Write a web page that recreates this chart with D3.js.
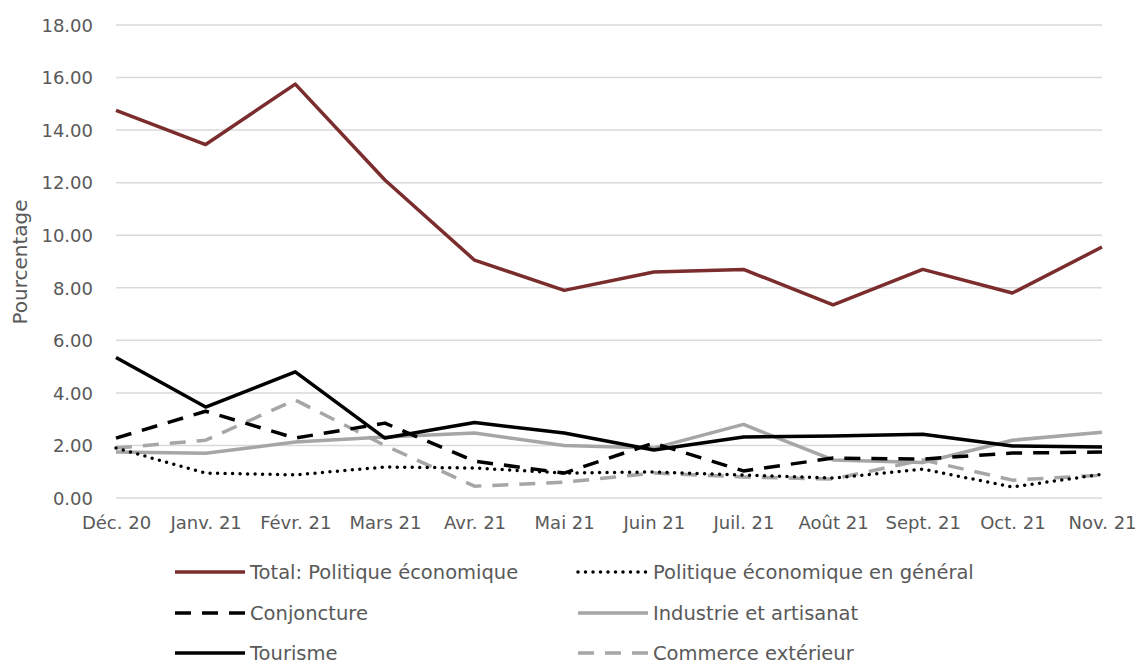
<!DOCTYPE html>
<html><head><meta charset="utf-8">
<script src="https://cdn.jsdelivr.net/npm/d3@7"></script>
<style>body{margin:0;background:#fff}svg{display:block}text{font-family:"DejaVu Sans",sans-serif}</style>
</head><body>
<svg id="c" width="1137" height="664"></svg>
<script>
const categories = ["Déc. 20","Janv. 21","Févr. 21","Mars 21","Avr. 21","Mai 21","Juin 21","Juil. 21","Août 21","Sept. 21","Oct. 21","Nov. 21"];
const total      = [14.75,13.45,15.75,12.10,9.05,7.90,8.60,8.70,7.35,8.70,7.80,9.55];
const generale   = [1.90,0.95,0.88,1.18,1.14,0.95,0.99,0.87,0.76,1.10,0.42,0.90];
const conjoncture= [2.28,3.30,2.28,2.85,1.40,0.95,2.09,1.03,1.52,1.48,1.71,1.75];
const industrie  = [1.75,1.70,2.13,2.32,2.47,2.00,1.90,2.80,1.45,1.35,2.20,2.50];
const tourisme   = [5.35,3.46,4.80,2.28,2.87,2.47,1.83,2.32,2.36,2.43,1.98,1.94];
const commerce   = [1.90,2.20,3.73,2.00,0.45,0.60,0.95,0.80,0.72,1.45,0.68,0.87];
const yTicks = [0,2,4,6,8,10,12,14,16,18];
const seriesNames = ["Total: Politique économique","Politique économique en général","Conjoncture","Industrie et artisanat","Tourisme","Commerce extérieur"];

const series = [
  {name:seriesNames[0], values:total,       color:"#7b2c2c", width:3.5, dash:null, cap:"butt"},
  {name:seriesNames[1], values:generale,    color:"#000000", width:3.5, dash:"0,7.5", cap:"round"},
  {name:seriesNames[2], values:conjoncture, color:"#000000", width:3.5, dash:"16,11", cap:"butt"},
  {name:seriesNames[3], values:industrie,   color:"#a6a6a6", width:3.5, dash:null, cap:"butt"},
  {name:seriesNames[4], values:tourisme,    color:"#000000", width:3.5, dash:null, cap:"butt"},
  {name:seriesNames[5], values:commerce,    color:"#a6a6a6", width:3.5, dash:"16,11", cap:"butt"}
];

const svg = d3.select("#c");
const x = d3.scalePoint().domain(categories).range([116,1102]);
const y = d3.scaleLinear().domain([0,18]).range([498,25]);

svg.append("g").selectAll("line").data(yTicks).join("line")
  .attr("x1",116).attr("x2",1102)
  .attr("y1",d=>y(d)).attr("y2",d=>y(d))
  .attr("stroke","#d9d9d9").attr("stroke-width",1.5);

const yAxis = d3.axisLeft(y).tickValues(yTicks).tickFormat(d3.format(".2f")).tickSize(0).tickPadding(0);
const gy = svg.append("g").attr("transform","translate(93,0)").call(yAxis);
gy.select(".domain").remove();
gy.selectAll("text").attr("fill","#595959").style("font-size","18px").style("font-family","'DejaVu Sans',sans-serif").attr("dy","0.35em");

const xAxis = d3.axisBottom(x).tickSize(0).tickPadding(0);
const gx = svg.append("g").attr("transform","translate(0,523)").call(xAxis);
gx.select(".domain").remove();
gx.selectAll("text").attr("fill","#595959").style("font-size","18px").style("font-family","'DejaVu Sans',sans-serif").attr("dy","0.35em");

svg.append("text").attr("transform","translate(20,262) rotate(-90)")
  .attr("text-anchor","middle").attr("dy","0.35em").attr("fill","#595959").style("font-size","20px").text("Pourcentage");

const line = d3.line().x((d,i)=>x(categories[i])).y(d=>y(d));
const drawOrder = [5,3,1,2,4,0];
drawOrder.forEach(k=>{
  const s = series[k];
  svg.append("path").attr("d",line(s.values)).attr("fill","none")
    .attr("stroke",s.color).attr("stroke-width",s.width)
    .attr("stroke-linecap",s.cap).attr("stroke-linejoin","round")
    .attr("stroke-dasharray",s.dash);
});

const legendPos = [[175,572],[578,572],[175,613],[578,613],[175,653],[578,653]];
series.forEach((s,i)=>{
  const [lx,ly] = legendPos[i];
  svg.append("line").attr("x1",lx).attr("x2",lx+70).attr("y1",ly).attr("y2",ly)
    .attr("stroke",s.color).attr("stroke-width",s.width)
    .attr("stroke-linecap",s.cap).attr("stroke-dasharray",s.dash);
  svg.append("text").attr("x",lx+75).attr("y",ly).attr("dy","0.35em")
    .attr("fill","#595959").style("font-size","19.5px").text(s.name);
});
</script>
</body></html>
